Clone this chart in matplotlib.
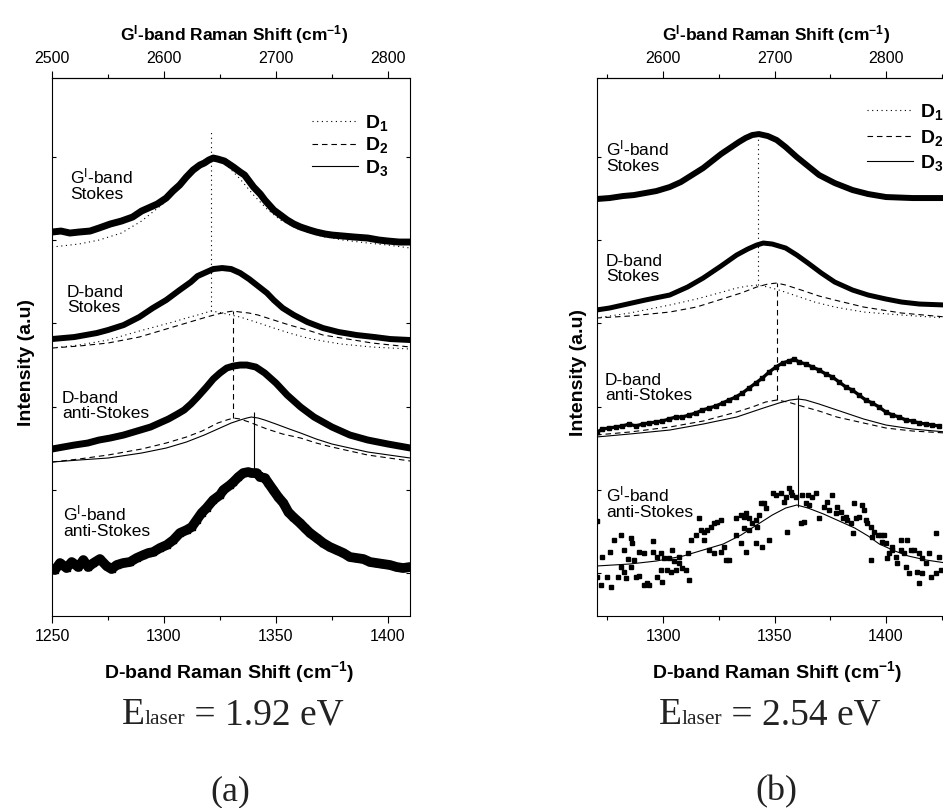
import matplotlib
matplotlib.use('Agg')
import matplotlib.pyplot as plt
from matplotlib.ticker import MultipleLocator
from matplotlib.offsetbox import TextArea, HPacker, AnnotationBbox

plt.rcParams['font.family'] = 'Liberation Sans'
plt.rcParams['mathtext.fontset'] = 'custom'
plt.rcParams['mathtext.rm'] = 'Liberation Sans'
plt.rcParams['mathtext.sf'] = 'Liberation Sans'
plt.rcParams['mathtext.it'] = 'Liberation Sans:italic'
plt.rcParams['mathtext.bf'] = 'Liberation Sans:bold'

# ---------------- (a) E_laser = 1.92 eV ----------------
# G'-band Stokes (plotted on the D-band scale, G' = 2 x D)
a_gs_x = [1250, 1254, 1258, 1262, 1267, 1271, 1276, 1281, 1286, 1290, 1293, 1297, 1301, 1304,
          1307, 1310, 1313, 1316, 1318, 1320, 1322, 1324, 1327, 1329, 1331, 1334, 1336, 1338,
          1340, 1343, 1345, 1347, 1349, 1352, 1355, 1358, 1361, 1365, 1368, 1372, 1375, 1380,
          1385, 1391, 1396, 1400, 1405, 1410]
a_gs_y = [3.83, 3.84, 3.82, 3.83, 3.84, 3.87, 3.91, 3.94, 3.98, 4.04, 4.07, 4.11, 4.17, 4.24,
          4.30, 4.38, 4.45, 4.50, 4.52, 4.55, 4.57, 4.56, 4.54, 4.51, 4.48, 4.43, 4.40, 4.34,
          4.28, 4.21, 4.15, 4.10, 4.05, 4.00, 3.95, 3.91, 3.88, 3.85, 3.83, 3.81, 3.80, 3.79,
          3.78, 3.77, 3.75, 3.74, 3.73, 3.73]
a_gs_d1_x = [1250, 1262, 1271, 1281, 1290, 1300, 1308, 1314, 1318, 1321, 1324, 1328, 1334,
             1340, 1346, 1352, 1360, 1370, 1380, 1391, 1400, 1410]
a_gs_d1_y = [3.68, 3.71, 3.75, 3.82, 3.94, 4.12, 4.33, 4.48, 4.55, 4.58, 4.55, 4.50, 4.36,
             4.20, 4.06, 3.95, 3.86, 3.79, 3.75, 3.72, 3.70, 3.67]

# D-band Stokes
a_ds_x = [1250, 1255, 1260, 1265, 1270, 1275, 1282, 1289, 1295, 1301, 1307, 1312, 1315, 1319,
          1322, 1326, 1330, 1334, 1338, 1342, 1346, 1349, 1353, 1358, 1364, 1371, 1378, 1386,
          1394, 1401, 1410]
a_ds_y = [2.76, 2.77, 2.78, 2.80, 2.82, 2.85, 2.90, 2.98, 3.07, 3.15, 3.25, 3.33, 3.39, 3.43,
          3.46, 3.47, 3.46, 3.42, 3.36, 3.29, 3.22, 3.15, 3.07, 3.00, 2.93, 2.87, 2.83, 2.80,
          2.78, 2.76, 2.75]
a_ds_d1_x = [1250, 1262, 1275, 1289, 1304, 1310, 1315, 1318, 1321, 1324, 1328, 1334, 1341,
             1349, 1356, 1364, 1371, 1379, 1393, 1410]
a_ds_d1_y = [2.67, 2.70, 2.75, 2.84, 2.93, 2.97, 3.00, 3.02, 3.04, 3.03, 3.01, 2.98, 2.93,
             2.87, 2.82, 2.77, 2.74, 2.71, 2.68, 2.66]
a_ds_d2_x = [1250, 1262, 1275, 1289, 1304, 1313, 1319, 1324, 1328, 1331, 1334, 1338, 1342,
             1349, 1356, 1364, 1371, 1382, 1393, 1410]
a_ds_d2_y = [2.67, 2.69, 2.72, 2.78, 2.88, 2.94, 2.98, 3.01, 3.03, 3.04, 3.03, 3.02, 3.00,
             2.95, 2.90, 2.85, 2.80, 2.76, 2.72, 2.68]

# D-band anti-Stokes
a_da_x = [1250, 1255, 1260, 1266, 1271, 1276, 1282, 1288, 1294, 1298, 1302, 1306, 1309, 1312,
          1315, 1319, 1322, 1325, 1328, 1331, 1334, 1337, 1341, 1345, 1350, 1355, 1361, 1367,
          1375, 1383, 1391, 1400, 1410]
a_da_y = [1.66, 1.68, 1.70, 1.72, 1.75, 1.77, 1.80, 1.84, 1.88, 1.92, 1.96, 2.01, 2.05, 2.11,
          2.18, 2.28, 2.36, 2.42, 2.47, 2.49, 2.50, 2.50, 2.48, 2.42, 2.32, 2.20, 2.08, 1.98,
          1.88, 1.80, 1.75, 1.71, 1.67]
a_da_d2_x = [1250, 1262, 1275, 1290, 1301, 1310, 1317, 1324, 1328, 1331, 1334, 1338, 1346,
             1353, 1361, 1368, 1375, 1391, 1410]
a_da_d2_y = [1.53, 1.56, 1.60, 1.66, 1.72, 1.78, 1.84, 1.92, 1.95, 1.97, 1.96, 1.93, 1.86,
             1.81, 1.77, 1.72, 1.68, 1.60, 1.54]
a_da_d3_x = [1250, 1262, 1275, 1290, 1301, 1310, 1318, 1325, 1330, 1334, 1337, 1339, 1342,
             1345, 1350, 1356, 1361, 1368, 1375, 1391, 1410]
a_da_d3_y = [1.53, 1.55, 1.57, 1.62, 1.67, 1.73, 1.80, 1.87, 1.92, 1.95, 1.97, 1.98, 1.97,
             1.95, 1.91, 1.86, 1.82, 1.76, 1.71, 1.63, 1.57]

# G'-band anti-Stokes
a_ga_x = [1251.3, 1253.6, 1256.5, 1258.8, 1261.8, 1264.0, 1266.2, 1268.5, 1271.4, 1274.4,
          1276.6, 1278.9, 1281.8, 1284.8, 1287.8, 1290.8, 1293.0, 1295.2, 1298.2, 1301.2,
          1304.2, 1307.1, 1310.1, 1312.4, 1314.6, 1316.8, 1319.0, 1322.0, 1325.0, 1326.5,
          1329.5, 1331.0, 1333.2, 1335.4, 1337.6, 1339.1, 1341.4, 1342.9, 1345.1, 1346.6,
          1348.8, 1351.0, 1353.3, 1355.5, 1357.7, 1360.7, 1362.9, 1365.2, 1368.2, 1371.1,
          1374.1, 1377.1, 1380.1, 1383.0, 1386.0, 1389.0, 1392.0, 1394.9, 1397.9, 1400.9,
          1403.9, 1406.8, 1409.8]
a_ga_y = [0.45, 0.52, 0.47, 0.53, 0.48, 0.55, 0.48, 0.52, 0.56, 0.49,
          0.46, 0.50, 0.52, 0.53, 0.57, 0.60, 0.62, 0.63, 0.67, 0.70,
          0.75, 0.82, 0.85, 0.88, 0.95, 1.02, 1.07, 1.15, 1.20, 1.25,
          1.30, 1.33, 1.38, 1.42, 1.43, 1.42, 1.42, 1.38, 1.37, 1.32,
          1.25, 1.18, 1.12, 1.03, 0.98, 0.92, 0.87, 0.82, 0.77, 0.72,
          0.68, 0.65, 0.62, 0.58, 0.57, 0.56, 0.53, 0.52, 0.51, 0.50,
          0.48, 0.47, 0.48]

# peak markers: (position, top, bottom)
a_peaks = {'D1': (1321, 4.85, 3.04), 'D2': (1331, 3.04, 1.97), 'D3': (1340, 2.03, 1.45)}

# ---------------- (b) E_laser = 2.54 eV ----------------
b_gs_x = [1270, 1276, 1282, 1287, 1292, 1297, 1303, 1308, 1313, 1318, 1322, 1326, 1330, 1334,
          1337, 1340, 1343, 1347, 1351, 1355, 1360, 1365, 1370, 1377, 1385, 1392, 1400, 1412, 1427]
b_gs_y = [4.16, 4.17, 4.19, 4.20, 4.22, 4.24, 4.28, 4.33, 4.40, 4.47, 4.54, 4.61, 4.67, 4.73,
          4.77, 4.80, 4.81, 4.79, 4.75, 4.68, 4.58, 4.49, 4.40, 4.32, 4.25, 4.21, 4.18, 4.17, 4.17]

b_ds_x = [1270, 1276, 1282, 1292, 1303, 1311, 1318, 1326, 1333, 1338, 1342, 1345, 1349, 1355,
          1360, 1365, 1371, 1377, 1385, 1392, 1400, 1407, 1415, 1427]
b_ds_y = [3.05, 3.07, 3.10, 3.15, 3.20, 3.28, 3.37, 3.49, 3.60, 3.66, 3.70, 3.72, 3.71, 3.67,
          3.60, 3.52, 3.42, 3.33, 3.25, 3.20, 3.16, 3.13, 3.11, 3.10]
b_ds_d1_x = [1270, 1285, 1303, 1315, 1325, 1333, 1338, 1342.6, 1347, 1352, 1360, 1368, 1377,
             1390, 1407, 1427]
b_ds_d1_y = [2.97, 3.02, 3.10, 3.16, 3.22, 3.27, 3.29, 3.30, 3.28, 3.25, 3.19, 3.13, 3.08,
             3.03, 3.00, 2.97]
b_ds_d2_x = [1270, 1285, 1303, 1315, 1325, 1335, 1342, 1347, 1351, 1355, 1362, 1370, 1377,
             1390, 1407, 1427]
b_ds_d2_y = [2.97, 2.99, 3.03, 3.08, 3.15, 3.22, 3.28, 3.31, 3.32, 3.30, 3.25, 3.19, 3.15,
             3.08, 3.02, 2.98]

b_da_x = [1270.6, 1272.8, 1275.8, 1278.8, 1281.8, 1284.8, 1287.8, 1290.8, 1293.8, 1296.8,
          1299.7, 1302.7, 1305.7, 1308.7, 1311.7, 1314.7, 1317.7, 1320.7, 1323.7, 1326.7,
          1329.6, 1332.6, 1335.6, 1338.6, 1341.6, 1344.6, 1347.6, 1350.6, 1353.6, 1356.5,
          1358.8, 1361.0, 1364.0, 1367.0, 1370.0, 1373.0, 1376.0, 1379.0, 1382.0, 1384.9,
          1387.9, 1390.9, 1393.9, 1396.9, 1399.9, 1402.9, 1405.9, 1408.9, 1411.9, 1414.8,
          1417.8, 1420.8, 1423.8]
b_da_y = [1.83, 1.86, 1.87, 1.88, 1.89, 1.91, 1.89, 1.91, 1.92, 1.93,
          1.94, 1.96, 1.98, 1.98, 2.00, 2.02, 2.05, 2.07, 2.09, 2.12,
          2.15, 2.18, 2.22, 2.27, 2.32, 2.37, 2.43, 2.48, 2.52, 2.54,
          2.56, 2.53, 2.51, 2.48, 2.45, 2.41, 2.38, 2.33, 2.28, 2.25,
          2.20, 2.15, 2.12, 2.08, 2.03, 2.00, 1.98, 1.95, 1.94, 1.92,
          1.91, 1.90, 1.89]
b_da_d2_x = [1270, 1285, 1303, 1318, 1333, 1340, 1346, 1351, 1356, 1362, 1370, 1378, 1390,
             1400, 1412, 1427]
b_da_d2_y = [1.80, 1.83, 1.88, 1.94, 2.03, 2.08, 2.13, 2.15, 2.13, 2.09, 2.04, 1.98, 1.92,
             1.87, 1.84, 1.82]
b_da_d3_x = [1270, 1285, 1303, 1318, 1333, 1345, 1352, 1357, 1360.6, 1364, 1370, 1378, 1390,
             1400, 1412, 1427]
b_da_d3_y = [1.78, 1.81, 1.85, 1.91, 1.98, 2.07, 2.12, 2.15, 2.16, 2.15, 2.11, 2.05, 1.96,
             1.90, 1.86, 1.83]

b_ga_x = [1270.5, 1272.8, 1276.1, 1278.1, 1281.1, 1282.6, 1285.5, 1286.3, 1284.1, 1287.0,
          1289.3, 1291.5, 1295.3, 1295.3, 1297.5, 1299.0, 1300.5, 1302.7, 1304.2, 1305.0,
          1307.2, 1308.7, 1311.0, 1270.6, 1272.1, 1275.1, 1276.6, 1279.6, 1281.1, 1282.6,
          1283.3, 1285.5, 1287.8, 1289.3, 1291.5, 1293.0, 1297.5, 1299.0, 1302.0, 1303.5,
          1305.7, 1307.2, 1310.2, 1311.7, 1299.7, 1293.8,
          1312.5, 1314.7, 1316.9, 1318.4, 1319.9, 1321.4, 1322.9, 1324.4, 1325.9, 1316.2,
          1318.4, 1320.7, 1322.9, 1325.9, 1327.4, 1328.1, 1329.6, 1332.6, 1334.9, 1336.4,
          1337.1, 1338.6, 1340.1, 1341.6, 1343.1, 1343.8, 1345.3, 1346.1, 1347.6, 1349.1,
          1350.6, 1352.8, 1354.3, 1355.1, 1356.5, 1357.3, 1358.0, 1355.8, 1359.5, 1334.9,
          1337.1, 1341.6, 1344.6, 1338.6, 1342.3, 1332.6, 1336.4,
          1362.5, 1364.8, 1367.0, 1368.5, 1364.0, 1365.5, 1361.8, 1363.3, 1370.0, 1372.2,
          1373.7, 1376.0, 1378.2, 1379.7, 1380.5, 1382.0, 1382.7, 1384.2, 1385.7, 1386.4,
          1387.9, 1389.4, 1390.2, 1390.9, 1391.7, 1393.2, 1394.7, 1393.9, 1396.2, 1397.7,
          1399.1, 1399.9, 1401.4, 1402.9, 1404.4, 1406.6, 1408.1, 1409.6, 1411.1, 1412.6,
          1414.8, 1416.3, 1417.8, 1419.3, 1422.3, 1424.6, 1393.2, 1400.6, 1405.1, 1408.9,
          1410.4, 1414.1, 1416.3, 1414.8, 1420.1, 1422.3, 1402.9, 1406.6, 1385.0, 1377.5,
          1374.5, 1398.4, 1423.8]
b_ga_y = [0.94, 0.58, 0.63, 0.75, 0.80, 0.65, 0.77, 0.72, 0.56, 0.55,
          0.63, 0.62, 0.63, 0.74, 0.58, 0.62, 0.57, 0.57, 0.65, 0.54,
          0.58, 0.47, 0.62, 0.38, 0.30, 0.38, 0.28, 0.38, 0.48, 0.43,
          0.37, 0.48, 0.38, 0.39, 0.30, 0.32, 0.38, 0.45, 0.45, 0.43,
          0.45, 0.52, 0.45, 0.35, 0.33, 0.30,
          0.75, 0.80, 0.85, 0.83, 0.85, 0.88, 0.92, 0.93, 0.95, 0.97,
          0.75, 0.65, 0.62, 0.63, 0.68, 0.55, 0.55, 0.97, 1.00, 0.98,
          1.02, 0.97, 0.92, 0.95, 1.00, 1.12, 1.12, 1.07, 0.75, 1.22,
          1.20, 1.22, 1.13, 1.18, 1.27, 1.23, 1.20, 0.83, 1.18, 0.72,
          0.63, 0.72, 0.68, 0.85, 0.88, 0.80, 0.87,
          1.20, 1.20, 1.18, 1.22, 1.12, 1.10, 0.92, 0.93, 0.97, 1.08,
          1.13, 1.20, 1.08, 1.03, 0.97, 0.98, 0.95, 0.92, 1.12, 0.97,
          0.98, 1.10, 1.05, 0.95, 0.92, 0.88, 0.83, 0.78, 0.80, 0.80,
          0.80, 0.72, 0.62, 0.65, 0.58, 0.65, 0.62, 0.75, 0.65, 0.65,
          0.62, 0.57, 0.52, 0.62, 0.82, 0.45, 0.55, 0.57, 0.52, 0.48,
          0.42, 0.43, 0.42, 0.32, 0.38, 0.42, 0.68, 0.75, 0.82, 1.02,
          1.05, 0.73, 0.58]
b_ga_d3_x = [1270, 1285, 1297, 1309, 1318, 1327, 1335, 1342, 1349, 1355, 1360, 1365, 1372,
             1379, 1386, 1392, 1397, 1404, 1410, 1418, 1427]
b_ga_d3_y = [0.49, 0.51, 0.54, 0.59, 0.65, 0.71, 0.80, 0.90, 1.00, 1.07, 1.10, 1.07, 1.01,
             0.94, 0.87, 0.79, 0.71, 0.64, 0.59, 0.55, 0.52]

b_peaks = {'D1': (1342.6, 4.82, 3.30), 'D2': (1351, 3.32, 2.15), 'D3': (1360.6, 2.20, 1.08)}

laser_energies = ['1.92', '2.54']
panel_tags = ['(a)', '(b)']
y_tick_pos = [0.42, 1.25, 2.08, 2.92, 3.75, 4.58]

GP = r'G$^{\mathregular{I}}$-band'
DOT = (0, (1, 3.2))
DASH = (0, (5, 3.5))
FIT_LW = 0.8


def style_axes(ax, xlim, g_major, g_minor_step):
    ax.set_xlim(*xlim)
    ax.set_ylim(-0.01, 5.37)
    ax.xaxis.set_major_locator(MultipleLocator(50))
    ax.xaxis.set_minor_locator(MultipleLocator(25))
    ax.tick_params(axis='x', which='both', direction='out', top=False, labelsize=11.5, pad=4.5)
    ax.tick_params(axis='x', which='major', length=5, width=0.8)
    ax.tick_params(axis='x', which='minor', length=3, width=0.8)
    ax.set_yticks(y_tick_pos)
    ax.tick_params(axis='y', which='both', direction='in', left=True, right=True,
                   labelleft=False, length=3, width=0.8)
    for s in ax.spines.values():
        s.set_linewidth(0.8)
    sec = ax.secondary_xaxis('top', functions=(lambda d: 2 * d, lambda g: g / 2))
    sec.set_xticks(g_major)
    sec.xaxis.set_minor_locator(MultipleLocator(g_minor_step))
    sec.tick_params(axis='x', which='both', direction='out', labelsize=11.5, pad=4)
    sec.tick_params(axis='x', which='major', length=5, width=0.8)
    sec.tick_params(axis='x', which='minor', length=3, width=0.8)
    sec.spines['top'].set_linewidth(0.8)
    return sec


def peak_lines(ax, peaks):
    styles = {'D1': DOT, 'D2': DASH, 'D3': '-'}
    for k, (x0, top, bot) in peaks.items():
        ax.vlines(x0, bot, top, colors='k', linestyles=styles[k], lw=FIT_LW)


def laser_label(fig, x, y, value):
    big = dict(family='Liberation Serif', size=27, color='#222222')
    small = dict(family='Liberation Serif', size=15.5, color='#222222')
    box = HPacker(children=[TextArea('E', textprops=big),
                            TextArea('laser', textprops=small),
                            TextArea(' = %s eV' % value, textprops=big)],
                  align='baseline', pad=0, sep=0)
    ab = AnnotationBbox(box, (x, y), xycoords='figure fraction', frameon=False,
                        box_alignment=(0.5, 0.5), pad=0)
    fig.add_artist(ab)


fig = plt.figure(figsize=(9.43, 8.08), dpi=100)
ax_a = fig.add_axes([0.0551, 0.2376, 0.3796, 0.6658])
ax_b = fig.add_axes([0.6331, 0.2376, 0.3722, 0.6658])

# ---- panel (a)
sec_a = style_axes(ax_a, (1250, 1409.8), [2500, 2600, 2700, 2800], 50)
ax_a.plot(a_gs_x, a_gs_y, color='k', lw=5, solid_joinstyle='round', solid_capstyle='round')
ax_a.plot(a_gs_d1_x, a_gs_d1_y, color='k', ls=DOT, lw=FIT_LW)
ax_a.plot(a_ds_x, a_ds_y, color='k', lw=4.3, solid_joinstyle='round', solid_capstyle='round')
ax_a.plot(a_ds_d1_x, a_ds_d1_y, color='k', ls=DOT, lw=FIT_LW)
ax_a.plot(a_ds_d2_x, a_ds_d2_y, color='k', ls=DASH, lw=FIT_LW)
ax_a.plot(a_da_x, a_da_y, color='k', lw=5, solid_joinstyle='round', solid_capstyle='round')
ax_a.plot(a_da_d2_x, a_da_d2_y, color='k', ls=DASH, lw=FIT_LW)
ax_a.plot(a_da_d3_x, a_da_d3_y, color='k', ls='-', lw=FIT_LW)
ax_a.plot(a_ga_x, a_ga_y, color='k', lw=7, marker='s', ms=5,
          solid_joinstyle='round', solid_capstyle='round')
peak_lines(ax_a, a_peaks)

# ---- panel (b)
sec_b = style_axes(ax_b, (1270.4, 1427.8), [2600, 2700, 2800], 50)
ax_b.plot(b_gs_x, b_gs_y, color='k', lw=4.3, solid_joinstyle='round', solid_capstyle='round')
ax_b.plot(b_ds_x, b_ds_y, color='k', lw=3.6, solid_joinstyle='round', solid_capstyle='round')
ax_b.plot(b_ds_d1_x, b_ds_d1_y, color='k', ls=DOT, lw=FIT_LW)
ax_b.plot(b_ds_d2_x, b_ds_d2_y, color='k', ls=DASH, lw=FIT_LW)
ax_b.plot(b_da_x, b_da_y, color='k', lw=2.4, marker='s', ms=2.4)
ax_b.plot(b_da_d2_x, b_da_d2_y, color='k', ls=DASH, lw=FIT_LW)
ax_b.plot(b_da_d3_x, b_da_d3_y, color='k', ls='-', lw=FIT_LW)
ax_b.plot(b_ga_x, b_ga_y, ls='none', marker='s', ms=2.6, color='k')
ax_b.plot(b_ga_d3_x, b_ga_d3_y, color='k', ls='-', lw=FIT_LW)
peak_lines(ax_b, b_peaks)

# legends (line samples for the three components)
for ax, anchor, spacing in [(ax_a, (0.726, 0.935), 0.12), (ax_b, (0.769, 0.955), 0.28)]:
    h = [plt.Line2D([], [], color='k', ls=DOT, lw=FIT_LW),
         plt.Line2D([], [], color='k', ls=DASH, lw=FIT_LW),
         plt.Line2D([], [], color='k', ls='-', lw=FIT_LW)]
    ax.legend(h, [r'D$_\mathbf{1}$', r'D$_\mathbf{2}$', r'D$_\mathbf{3}$'],
              loc='upper left', bbox_to_anchor=anchor, frameon=False,
              prop={'weight': 'bold', 'size': 14}, handlelength=2.37,
              handletextpad=0.36, labelspacing=spacing, borderpad=0, borderaxespad=0)

# band labels
txt = dict(fontsize=12.5, va='center', ha='left', linespacing=1.05)
ax_a.text(1258, 4.31, GP + '\nStokes', **txt)
ax_a.text(1256.7, 3.15, 'D-band\nStokes', **txt)
ax_a.text(1254.5, 2.09, 'D-band\nanti-Stokes', **txt)
ax_a.text(1255, 0.94, GP + '\nanti-Stokes', **txt)
ax_b.text(1274.4, 4.59, GP + '\nStokes', **txt)
ax_b.text(1274.4, 3.46, 'D-band\nStokes', **txt)
ax_b.text(1274, 2.27, 'D-band\nanti-Stokes', **txt)
ax_b.text(1274.4, 1.13, GP + '\nanti-Stokes', **txt)

# axis labels
for ax, ylx, yly, bx, tx in [(ax_a, -0.048, 0.472, 0.494, 0.508),
                             (ax_b, -0.028, 0.453, 0.513, 0.51)]:
    ax.set_xlabel(r'D-band Raman Shift (cm$^{\mathbf{-1}}$)', fontsize=14, fontweight='bold')
    ax.xaxis.set_label_coords(bx, -0.08)
    ax.set_ylabel('Intensity (a.u)', fontsize=14, fontweight='bold')
    ax.yaxis.set_label_coords(ylx, yly)
    ax.text(tx, 1.06, r'G$^{\mathbf{I}}$-band Raman Shift (cm$^{\mathbf{-1}}$)',
            transform=ax.transAxes, ha='center', va='bottom',
            fontsize=12.5, fontweight='bold')

# captions under the panels
for xc, val, tag in zip([0.247, 0.8165], laser_energies, panel_tags):
    laser_label(fig, xc, 0.115, val)
    fig.text(xc - 0.003 if tag == '(a)' else xc + 0.007, 0.02, tag,
             family='Liberation Serif', fontsize=26, ha='center', va='center', color='#222222')

fig.savefig('out.png', dpi=100)
